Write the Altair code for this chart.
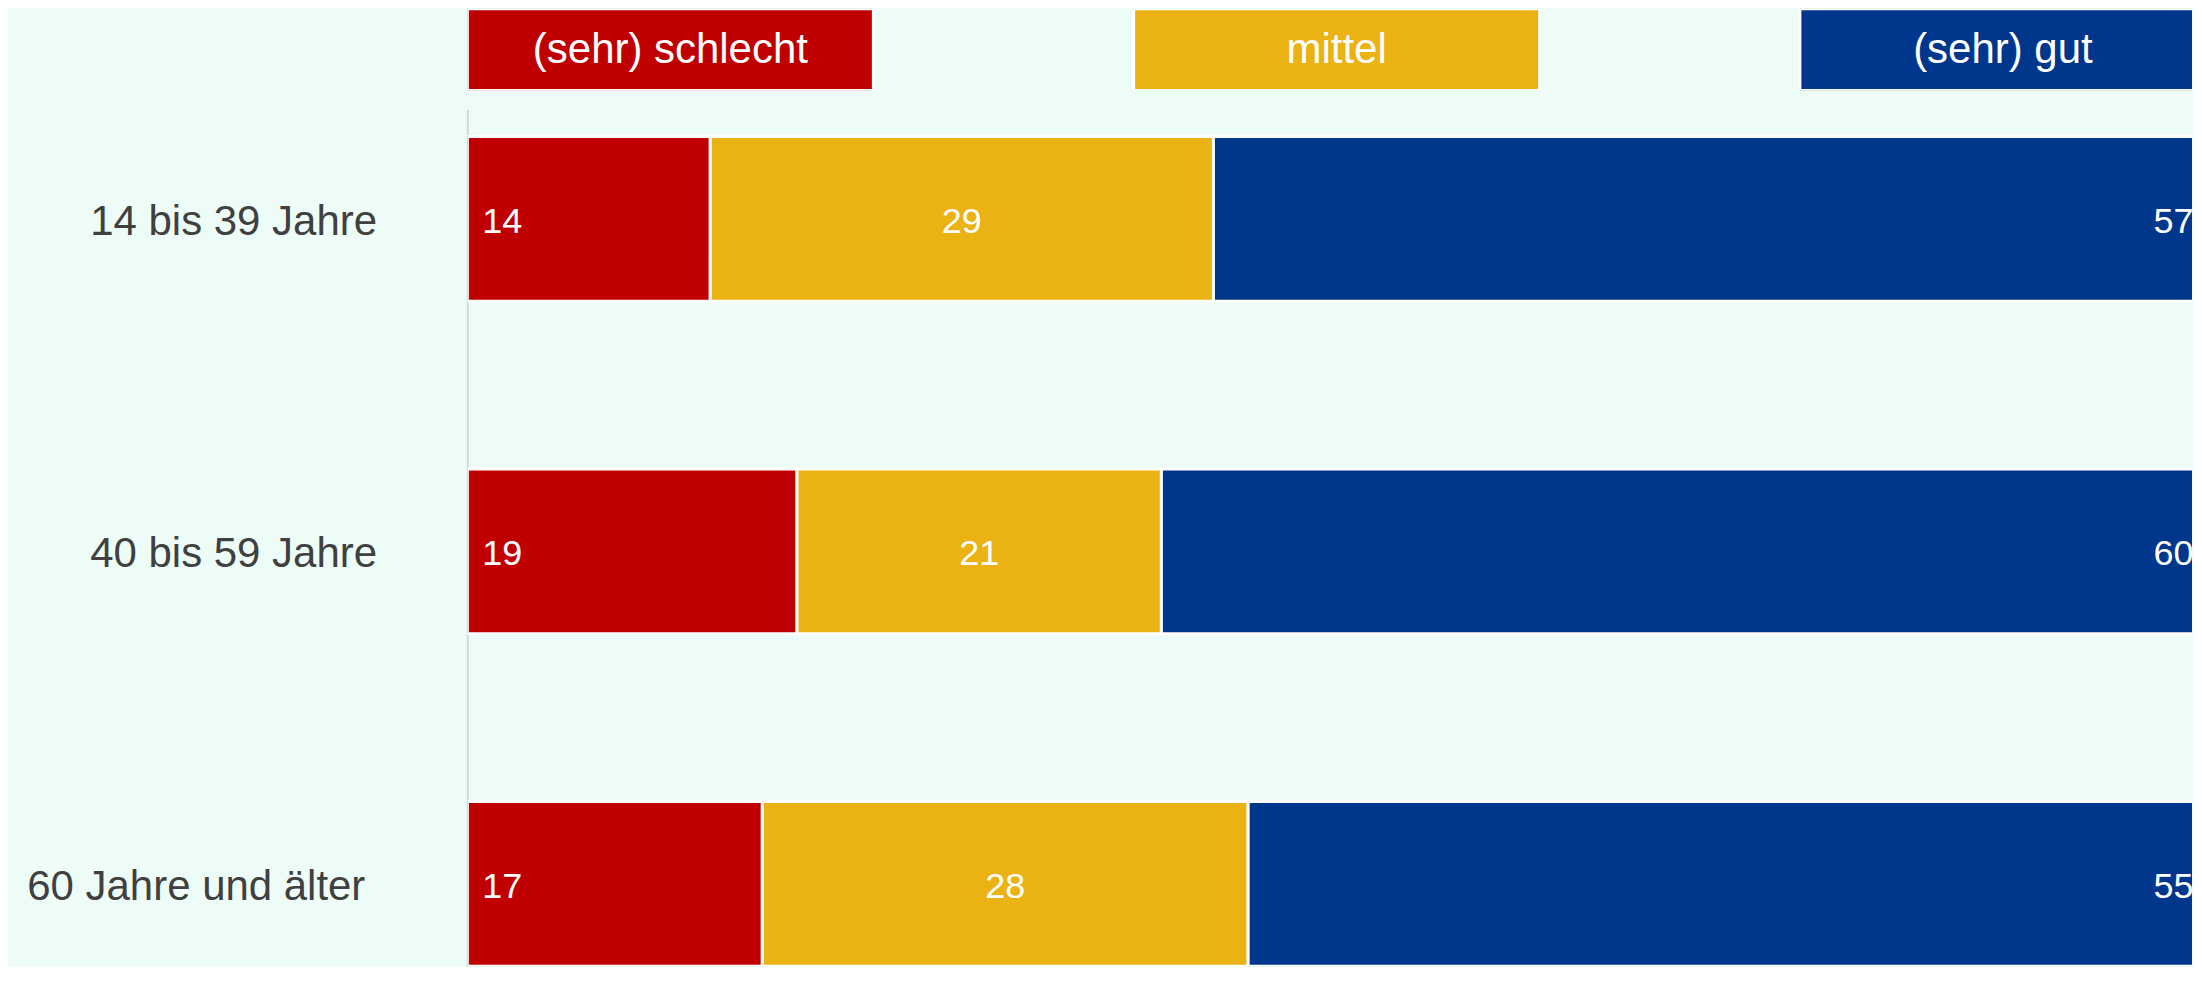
import altair as alt
import pandas as pd

# ---- data ----
categories = ["14 bis 39 Jahre", "40 bis 59 Jahre", "60 Jahre und älter"]
answers = ["(sehr) schlecht", "mittel", "(sehr) gut"]
schlecht = [14, 19, 17]
mittel = [29, 21, 28]
gut = [57, 60, 55]

# ---- style ----
colors = ["#C00000", "#EBB214", "#00378C"]
BG = "#EDFCF6"
FONT = "Liberation Sans"
LEG_STEP = 38.4
LEG_BOX = 23.4

rows = []
for i, cat in enumerate(categories):
    start = 0
    for ans, series in zip(answers, [schlecht, mittel, gut]):
        v = series[i]
        rows.append({"group": cat, "answer": ans, "value": v,
                     "start": start, "end": start + v})
        start += v
df = pd.DataFrame(rows)

legend_df = pd.DataFrame({"answer": answers, "i": list(range(len(answers)))})

xscale = alt.Scale(domain=[0, 99.4], nice=False, zero=True)
cscale = alt.Scale(domain=answers, range=colors)

y_enc = alt.Y(
    "group:N",
    sort=categories,
    scale=alt.Scale(paddingInner=0.5045, paddingOuter=0.0405, align=1),
    axis=alt.Axis(
        title=None,
        labelFontSize=42,
        labelFont=FONT,
        labelColor="#404040",
        labelPadding=91,
        labelLimit=600,
        labelOffset=3,
        ticks=False,
        grid=False,
        domain=True,
        domainColor="#d4d8d6",
        domainWidth=2,
        labelExpr="datum.label == '60 Jahre und älter' ? datum.label + '\u00a0\u200b' : datum.label",
    ),
)

base = alt.Chart(df)

bars = base.mark_bar(stroke="white", strokeWidth=3, clip=True).encode(
    x=alt.X("start:Q", scale=xscale, axis=None),
    x2="end:Q",
    y=y_enc,
    color=alt.Color("answer:N", scale=cscale, legend=None),
)

txt_kw = dict(fontSize=36, font=FONT, color="white", baseline="middle", dy=3)

lab_left = base.transform_filter(alt.datum.answer == answers[0]).mark_text(
    align="left", dx=15, **txt_kw
).encode(x=alt.X("start:Q", scale=xscale, axis=None), y=alt.Y("group:N", sort=categories), text="value:Q")

lab_mid = base.transform_filter(alt.datum.answer == answers[1]).transform_calculate(
    mid="(datum.start + datum.end) / 2"
).mark_text(align="center", **txt_kw).encode(
    x=alt.X("mid:Q", scale=xscale, axis=None), y=alt.Y("group:N", sort=categories), text="value:Q"
)

lab_right = base.transform_filter(alt.datum.answer == answers[2]).mark_text(
    align="right", dx=-9, **txt_kw
).encode(x=alt.X("end:Q", scale=xscale, axis=None), y=alt.Y("group:N", sort=categories), text="value:Q")

main = alt.layer(bars, lab_left, lab_mid, lab_right).properties(width=1727, height=858)

leg_base = alt.Chart(legend_df).transform_calculate(
    lx=f"datum.i * {LEG_STEP}",
    lx2=f"datum.i * {LEG_STEP} + {LEG_BOX}",
    lmid=f"datum.i * {LEG_STEP} + {LEG_BOX} / 2",
)

leg_boxes = leg_base.mark_rect(stroke="white", strokeWidth=3, clip=True).encode(
    x=alt.X("lx:Q", scale=xscale, axis=None),
    x2="lx2:Q",
    color=alt.Color("answer:N", scale=cscale, legend=None),
)
leg_text = leg_base.mark_text(fontSize=42, font=FONT, color="white", baseline="middle").encode(
    x=alt.X("lmid:Q", scale=xscale, axis=None),
    text="answer:N",
)
legend = alt.layer(leg_boxes, leg_text).properties(width=1727, height=82)

chart = alt.vconcat(legend, main, spacing=19, bounds="flush").properties(
    padding={"left": 18, "top": 0, "right": 0, "bottom": 0},
    background=BG,
).configure_view(strokeWidth=0)

chart.save("out.html", embed_options={"renderer": "svg", "actions": False})
